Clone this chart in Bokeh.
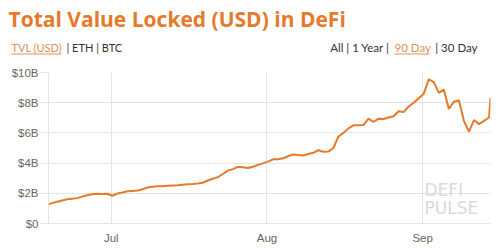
import pandas as pd
from bokeh.plotting import figure
from bokeh.layouts import column
from bokeh.models import (ColumnDataSource, Label, FixedTicker,
                          DatetimeTickFormatter, Range1d)
from bokeh.core.properties import value
from bokeh.embed import file_html
from bokeh.resources import INLINE

# ---- data ($ billions) ----
dates = ([pd.Timestamp("2020-06-18 12:00")]
         + list(pd.date_range("2020-06-19 05:00", periods=88, freq="D"))
         + [pd.Timestamp("2020-09-14 12:00")])
tvl = [1.27, 1.35, 1.44, 1.52, 1.60, 1.64, 1.68, 1.78, 1.87, 1.93,
       1.97, 1.96, 1.97, 1.84, 1.98, 2.05, 2.13, 2.16, 2.19, 2.27,
       2.38, 2.43, 2.46, 2.46, 2.50, 2.52, 2.53, 2.57, 2.60, 2.62,
       2.65, 2.70, 2.85, 2.96, 3.07, 3.28, 3.50, 3.60, 3.75, 3.72,
       3.68, 3.76, 3.88, 3.98, 4.10, 4.25, 4.25, 4.32, 4.45, 4.57,
       4.54, 4.50, 4.60, 4.68, 4.85, 4.75, 4.76, 5.00, 5.75, 6.00,
       6.30, 6.50, 6.50, 6.52, 6.94, 6.72, 6.94, 6.92, 7.02, 7.10,
       7.43, 7.38, 7.75, 8.00, 8.30, 8.60, 9.54, 9.36, 8.65, 8.87,
       7.58, 8.06, 8.16, 6.80, 6.08, 6.85, 6.58, 6.80, 7.02, 8.33]
y_ticks = [0, 2, 4, 6, 8, 10]
y_tick_labels = ["$0", "$2B", "$4B", "$6B", "$8B", "$10B"]
x_ticks = ["2020-07-01", "2020-08-01", "2020-09-01"]
title_text = "Total Value Locked (USD) in DeFi"
left_links = ["TVL (USD)", "| ETH | BTC"]
right_links = ["All | 1 Year |", "90 Day", "| 30 Day"]
watermark = ["DEFI", "PULSE"]

ORANGE = "#e67a2a"
LINK = "#d9925a"
GRID = "#e4e4e4"
TXT = "#666666"
DARK = "#333333"

HEAD_H = 62

# ---------------- header ----------------
h = figure(width=500, height=HEAD_H, output_backend="svg", toolbar_location=None,
           x_range=Range1d(0, 500), y_range=Range1d(HEAD_H, 0),
           min_border=0, min_border_left=0, min_border_right=0,
           min_border_top=0, min_border_bottom=0)
h.axis.visible = False
h.grid.visible = False
h.outline_line_color = None

def htext(text, x, y, color, size, style="normal", font="Lato", align="left"):
    # y is the wanted baseline; the svg backend centres "middle" ~0.33em above it
    fs = float(size[:-2])
    h.text(x=[x], y=[y - 0.33 * fs], text=[text], text_color=color,
           text_font=value(font), text_font_size=size,
           text_font_style=style, text_align=align,
           text_baseline="middle")

htext(title_text, 8, 25, ORANGE, "21px", style="bold", font="Open Sans")
htext(left_links[0], 11, 51, LINK, "11px")
htext(left_links[1], 66, 51, DARK, "11px")
htext(right_links[0], 389, 51, DARK, "11.5px", align="right")
htext(right_links[1], 394, 51, LINK, "11.5px")
htext(right_links[2], 477, 51, DARK, "11.5px", align="right")
h.segment(x0=[11, 394], y0=[53.5, 53.5], x1=[61, 429], y1=[53.5, 53.5],
          line_color=LINK, line_width=1)

# ---------------- chart ----------------
src = ColumnDataSource(dict(x=dates, y=tvl))

p = figure(width=500, height=248 - HEAD_H, output_backend="svg",
           toolbar_location=None, x_axis_type="datetime",
           x_range=Range1d(dates[0], dates[-1]), y_range=Range1d(0, 10),
           min_border_left=48, min_border_right=10, min_border_top=72 - HEAD_H,
           min_border_bottom=25)
p.outline_line_color = None

for fig in (h, p):
    if "frame_align" in fig.properties():
        fig.frame_align = False

p.line("x", "y", source=src, line_color=ORANGE, line_width=2)

p.yaxis.ticker = FixedTicker(ticks=y_ticks)
p.yaxis.major_label_overrides = {t: l for t, l in zip(y_ticks, y_tick_labels)}
p.yaxis.axis_line_color = GRID
p.yaxis.major_tick_line_color = GRID
p.yaxis.major_tick_out = 8
p.yaxis.major_tick_in = 0
p.yaxis.minor_tick_line_color = None
p.yaxis.major_label_standoff = 2
p.yaxis.major_label_text_color = TXT
p.yaxis.major_label_text_font = "Liberation Sans"
p.yaxis.major_label_text_font_size = "11.5px"

xt = [pd.Timestamp(d).value / 1e6 for d in x_ticks]
p.xaxis.ticker = FixedTicker(ticks=xt)
p.xaxis.formatter = DatetimeTickFormatter(months="%b", days="%b", hours="%b")
p.xaxis.axis_line_color = GRID
p.xaxis.major_tick_line_color = GRID
p.xaxis.major_tick_out = 0
p.xaxis.major_tick_in = 0
p.xaxis.minor_tick_line_color = None
p.xaxis.major_label_standoff = 8
p.xaxis.major_label_text_color = TXT
p.xaxis.major_label_text_font = "Liberation Sans"
p.xaxis.major_label_text_font_size = "11.5px"

p.xgrid.grid_line_color = GRID
p.ygrid.grid_line_color = GRID

# watermark inside the frame (screen units from frame left/bottom)
FL, FB = 48, 223
for txt, py in [(watermark[0], 195), (watermark[1], 213)]:
    p.add_layout(Label(x=424 - FL, y=FB - py + 0.33 * 17, x_units="screen",
                       y_units="screen", text=txt, text_color="#d9d9e2",
                       text_font="DejaVu Sans", text_font_size="17px",
                       text_baseline="middle"))

layout = column(h, p, spacing=0)
open("out.html", "w").write(file_html(layout, INLINE))
